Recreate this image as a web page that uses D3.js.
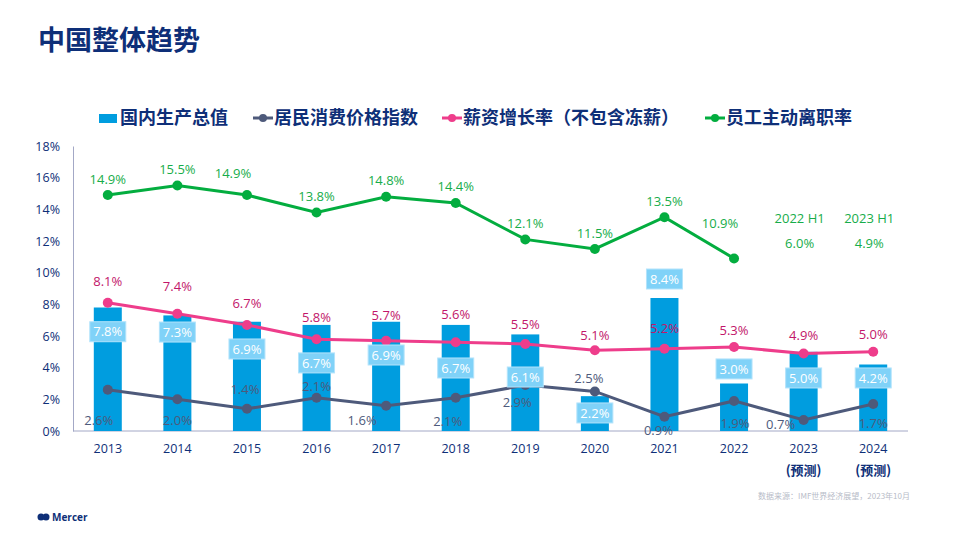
<!DOCTYPE html>
<html>
<head>
<meta charset="utf-8">
<script src="https://cdn.jsdelivr.net/npm/d3@7"></script>
<style>
  body { margin: 0; background: #fff; }
  svg { font-family: "Noto Sans CJK SC", "Noto Sans", sans-serif; }
</style>
</head>
<body>
<script>
// chart data
var years = ["2013", "2014", "2015", "2016", "2017", "2018", "2019", "2020", "2021", "2022", "2023", "2024"];
var forecastYears = ["2023", "2024"];
var gdp = [7.8, 7.3, 6.9, 6.7, 6.9, 6.7, 6.1, 2.2, 8.4, 3.0, 5.0, 4.2];
var cpi = [2.6, 2.0, 1.4, 2.1, 1.6, 2.1, 2.9, 2.5, 0.9, 1.9, 0.7, 1.7];
var salary = [8.1, 7.4, 6.7, 5.8, 5.7, 5.6, 5.5, 5.1, 5.2, 5.3, 4.9, 5.0];
var turnover = [14.9, 15.5, 14.9, 13.8, 14.8, 14.4, 12.1, 11.5, 13.5, 10.9];
var halfYearLabels = [["2023", "2022 H1", 6.0], ["2024", "2023 H1", 4.9]];
var yTicks = [0, 2, 4, 6, 8, 10, 12, 14, 16, 18];
var seriesNames = ["国内生产总值", "居民消费价格指数", "薪资增长率（不包含冻薪）", "员工主动离职率"];

// label placement (value units for gdp boxes, pixel offsets for the rest)
var gdpLabelAt = [6.27, 6.25, 5.18, 4.3, 4.8, 3.98, 3.41, 1.14, 9.6, 3.92, 3.35, 3.35];
var cpiLabelOff = [[-9, 30], [0, 21], [-2, -20], [0, -11], [-24, 15], [-8, 24], [-8, 17], [-6, -13], [-6, 14], [1, 22], [-23, 4], [0, 19]];
var salaryLabelDy = [-21, -28, -22, -22, -25, -28, -20, -15, -20, -17, -18, -18];
var turnLabelOff = [[0, -16], [0, -16], [-14, -22], [0, -16], [0, -16], [0, -17], [0, -16], [0, -16], [0, -16], [-14, -35]];

var colors = {
  bar: "#009ddf", box: "#80d2f8", cpi: "#4e5a7b", salary: "#ee3d8b",
  salaryText: "#c2166a", turn: "#03ad3f", turnText: "#17ad4a", navy: "#0e2f78"
};

var W = 960, H = 540;
var svg = d3.select("body").append("svg").attr("width", W).attr("height", H);

// title
svg.append("text").text("中国整体趋势")
  .attr("x", 38).attr("y", 50)
  .attr("font-size", 27).attr("font-weight", "bold").attr("fill", colors.navy);

var x = d3.scaleBand().domain(years).range([73, 908]);
var y = d3.scaleLinear().domain([0, 18]).range([431, 146]);
var cx = function(d) { return x(d) + x.bandwidth() / 2; };

// axes
var yAxis = svg.append("g").attr("transform", "translate(73,0)")
  .call(d3.axisLeft(y).tickValues(yTicks).tickSize(0).tickPadding(13).tickFormat(function(d) { return d + "%"; }));
yAxis.select(".domain").attr("stroke", "#a3a8c6");
yAxis.selectAll("text").attr("fill", colors.navy).attr("font-size", 12.5)
  .attr("font-family", "'Open Sans', sans-serif");

var xAxis = svg.append("g").attr("transform", "translate(0,431)")
  .call(d3.axisBottom(x).tickSize(0).tickPadding(13));
xAxis.select(".domain").attr("stroke", "#a3a8c6").attr("d", "M73,0H908");
xAxis.selectAll("text").attr("fill", colors.navy).attr("font-size", 12.5)
  .attr("font-family", "'Open Sans', sans-serif");

svg.selectAll(".fc").data(forecastYears).enter().append("text")
  .attr("x", cx).attr("y", 475).attr("text-anchor", "middle")
  .attr("font-size", 13).attr("font-weight", "bold").attr("fill", colors.navy)
  .text("(预测)");

// bars
var bw = 28;
svg.selectAll(".bar").data(gdp).enter().append("rect")
  .attr("x", function(d, i) { return cx(years[i]) - bw / 2; })
  .attr("y", function(d) { return y(d); })
  .attr("width", bw)
  .attr("height", function(d) { return y(0) - y(d); })
  .attr("fill", colors.bar);

// lines
function drawLine(vals, color) {
  var line = d3.line()
    .x(function(d, i) { return cx(years[i]); })
    .y(function(d) { return y(d); });
  svg.append("path").datum(vals).attr("d", line)
    .attr("fill", "none").attr("stroke", color).attr("stroke-width", 3);
  svg.selectAll(null).data(vals).enter().append("circle")
    .attr("cx", function(d, i) { return cx(years[i]); })
    .attr("cy", function(d) { return y(d); })
    .attr("r", 5).attr("fill", color);
}
drawLine(cpi, colors.cpi);
drawLine(salary, colors.salary);
drawLine(turnover, colors.turn);

var numFont = "'Open Sans', sans-serif";

// gdp label boxes
var boxes = svg.selectAll(".gbox").data(gdp).enter().append("g")
  .attr("transform", function(d, i) { return "translate(" + cx(years[i]) + "," + y(gdpLabelAt[i]) + ")"; });
boxes.append("rect").attr("x", -18).attr("y", -10).attr("width", 36).attr("height", 20)
  .attr("fill", colors.box).attr("stroke", "#b3e3fb").attr("stroke-width", 1);
boxes.append("text").attr("text-anchor", "middle").attr("dy", "0.36em")
  .attr("font-size", 13).attr("font-family", numFont).attr("fill", "#fff")
  .text(function(d) { return d.toFixed(1) + "%"; });

// cpi labels
svg.selectAll(".clab").data(cpi).enter().append("text")
  .attr("x", function(d, i) { return cx(years[i]) + cpiLabelOff[i][0]; })
  .attr("y", function(d, i) { return y(d) + cpiLabelOff[i][1]; })
  .attr("dy", "0.36em").attr("text-anchor", "middle")
  .attr("font-size", 13).attr("font-family", numFont).attr("fill", colors.cpi)
  .text(function(d) { return d.toFixed(1) + "%"; });

// salary labels
svg.selectAll(".slab").data(salary).enter().append("text")
  .attr("x", function(d, i) { return cx(years[i]); })
  .attr("y", function(d, i) { return y(d) + salaryLabelDy[i]; })
  .attr("dy", "0.36em").attr("text-anchor", "middle")
  .attr("font-size", 13).attr("font-family", numFont).attr("fill", colors.salaryText)
  .text(function(d) { return d.toFixed(1) + "%"; });

// turnover labels
svg.selectAll(".tlab").data(turnover).enter().append("text")
  .attr("x", function(d, i) { return cx(years[i]) + turnLabelOff[i][0]; })
  .attr("y", function(d, i) { return y(d) + turnLabelOff[i][1]; })
  .attr("dy", "0.36em").attr("text-anchor", "middle")
  .attr("font-size", 13).attr("font-family", numFont).attr("fill", colors.turnText)
  .text(function(d) { return d.toFixed(1) + "%"; });

// half-year turnover notes
var hy = svg.selectAll(".hy").data(halfYearLabels).enter().append("g")
  .attr("transform", function(d) { return "translate(" + (cx(d[0]) - 4) + ",0)"; });
hy.append("text").attr("y", 223).attr("text-anchor", "middle")
  .attr("font-size", 13).attr("font-family", numFont).attr("fill", colors.turnText)
  .text(function(d) { return d[1]; });
hy.append("text").attr("y", 248).attr("text-anchor", "middle")
  .attr("font-size", 13).attr("font-family", numFont).attr("fill", colors.turnText)
  .text(function(d) { return d[2].toFixed(1) + "%"; });

// legend
var legX = [99, 253, 442, 705];
var legColors = [colors.bar, colors.cpi, colors.salary, colors.turn];
var leg = svg.selectAll(".leg").data(seriesNames).enter().append("g")
  .attr("transform", function(d, i) { return "translate(" + legX[i] + ",118)"; });
leg.each(function(d, i) {
  var g = d3.select(this);
  if (i === 0) {
    g.append("rect").attr("x", 0).attr("y", -4).attr("width", 18).attr("height", 9).attr("fill", legColors[i]);
  } else {
    g.append("line").attr("x1", 0).attr("x2", 20).attr("stroke", legColors[i]).attr("stroke-width", 3);
    g.append("circle").attr("cx", 10).attr("r", 4).attr("fill", legColors[i]);
  }
});
leg.append("text").attr("x", 21).attr("dy", "0.36em")
  .attr("font-size", 18).attr("font-weight", "bold").attr("fill", colors.navy)
  .text(function(d) { return d; });

// footer
var logo = svg.append("g").attr("transform", "translate(38,517)");
logo.append("circle").attr("cx", 3).attr("r", 3.5).attr("fill", "#0e2f78");
logo.append("circle").attr("cx", 8).attr("r", 3.5).attr("fill", "#0e2f78");
logo.append("text").attr("x", 14).attr("dy", "0.36em").attr("font-size", 10)
  .attr("font-weight", "bold").attr("fill", "#0e2f78").attr("font-family", "'Open Sans', sans-serif")
  .text("Mercer");
svg.append("text").attr("x", 910).attr("y", 499).attr("text-anchor", "end")
  .attr("font-size", 8).attr("fill", "#b8bcc8")
  .text("数据来源：IMF世界经济展望，2023年10月");
</script>
</body>
</html>
